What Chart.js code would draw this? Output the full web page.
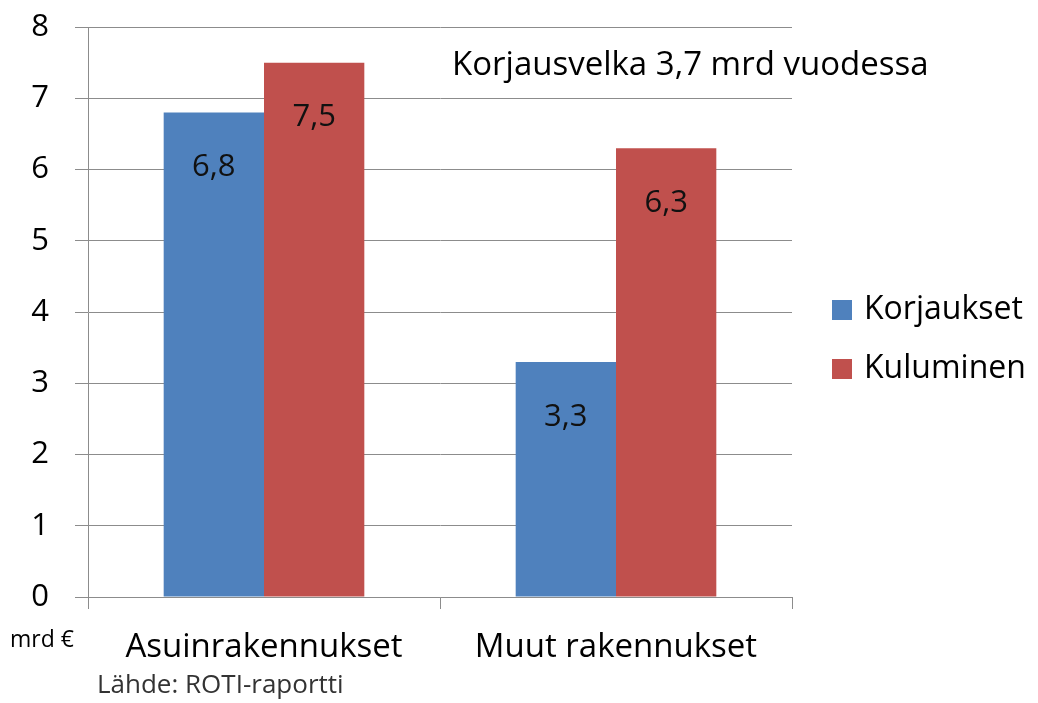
<!DOCTYPE html>
<html>
<head>
<meta charset="utf-8">
<script src="https://cdn.jsdelivr.net/npm/chart.js@4"></script>
<style>
  html, body { margin: 0; padding: 0; background: #fff; }
  #wrap { width: 1038px; height: 703px; }
</style>
</head>
<body>
<div id="wrap"><canvas id="repairChart" width="1038" height="703"></canvas></div>
<script>
// data
const categories = ['Asuinrakennukset', 'Muut rakennukset'];
const repairs = [6.8, 3.3];      // Korjaukset
const wear = [7.5, 6.3];         // Kuluminen
const yTicks = [0, 1, 2, 3, 4, 5, 6, 7, 8];
const seriesNames = ['Korjaukset', 'Kuluminen'];
const noteText = 'Korjausvelka 3,7 mrd vuodessa';
const unitText = 'mrd €';
const sourceText = 'Lähde: ROTI-raportti';

const FONT = '"Open Sans", Lato, sans-serif';

// labels, legend and side texts
const extrasPlugin = {
    id: 'extras',
    afterDatasetsDraw(chart) {
        const ctx = chart.ctx;
        ctx.save();
        ctx.font = '31px ' + FONT;
        ctx.fillStyle = '#111';
        ctx.textAlign = 'center';
        ctx.textBaseline = 'middle';
        chart.data.datasets.forEach((ds, i) => {
            chart.getDatasetMeta(i).data.forEach((bar, j) => {
                const txt = ds.data[j].toFixed(1).replace('.', ',');
                ctx.fillText(txt, bar.x, bar.y + 55);
            });
        });
        ctx.restore();
    },
    afterDraw(chart) {
        const ctx = chart.ctx;
        const area = chart.chartArea;
        ctx.save();

        // note in the top right
        ctx.font = '33px ' + FONT;
        ctx.fillStyle = '#000';
        ctx.textBaseline = 'middle';
        ctx.textAlign = 'left';
        ctx.fillText(noteText, 452, 66);

        // legend
        ctx.font = '32px ' + FONT;
        chart.data.datasets.forEach((ds, i) => {
            const y = 310 + i * 59;
            ctx.fillStyle = ds.backgroundColor;
            ctx.fillRect(area.right + 40, y - 10, 20, 20);
            ctx.fillStyle = '#000';
            ctx.fillText(ds.label, area.right + 72, y);
        });

        // unit and source
        ctx.font = '23px ' + FONT;
        ctx.fillText(unitText, 10, 640);
        ctx.font = '26px ' + FONT;
        ctx.fillStyle = '#333';
        ctx.fillText(sourceText, 97, 686);
        ctx.restore();
    }
};

const ctx = document.getElementById('repairChart').getContext('2d');
new Chart(ctx, {
    type: 'bar',
    data: {
        labels: categories,
        datasets: [
            {
                label: seriesNames[0],
                data: repairs,
                backgroundColor: '#4F81BD',
                barPercentage: 1,
                categoryPercentage: 0.57
            },
            {
                label: seriesNames[1],
                data: wear,
                backgroundColor: '#C0504D',
                barPercentage: 1,
                categoryPercentage: 0.57
            }
        ]
    },
    options: {
        responsive: false,
        animation: false,
        layout: { padding: { top: 27, right: 246, bottom: 0, left: 0 } },
        plugins: {
            legend: { display: false },
            tooltip: { enabled: false }
        },
        scales: {
            x: {
                grid: {
                    offset: true,
                    drawOnChartArea: false,
                    drawTicks: true,
                    tickLength: 12,
                    color: '#8c8c8c'
                },
                border: { color: '#8c8c8c' },
                ticks: {
                    color: '#000',
                    font: { family: FONT, size: 33 },
                    padding: 19
                },
                afterFit(scale) {
                    scale.height = 106;
                    scale.paddingLeft = 0;
                    scale.paddingRight = 0;
                }
            },
            y: {
                min: 0,
                max: 8,
                afterBuildTicks(scale) {
                    scale.ticks = yTicks.map(v => ({ value: v }));
                },
                grid: {
                    color: '#8c8c8c',
                    tickLength: 13
                },
                border: { color: '#8c8c8c' },
                ticks: {
                    color: '#000',
                    font: { family: FONT, size: 31 },
                    padding: 26
                },
                afterFit(scale) {
                    scale.width = 88;
                    scale.paddingTop = 0;
                    scale.paddingBottom = 0;
                }
            }
        }
    },
    plugins: [extrasPlugin]
});
</script>
</body>
</html>
